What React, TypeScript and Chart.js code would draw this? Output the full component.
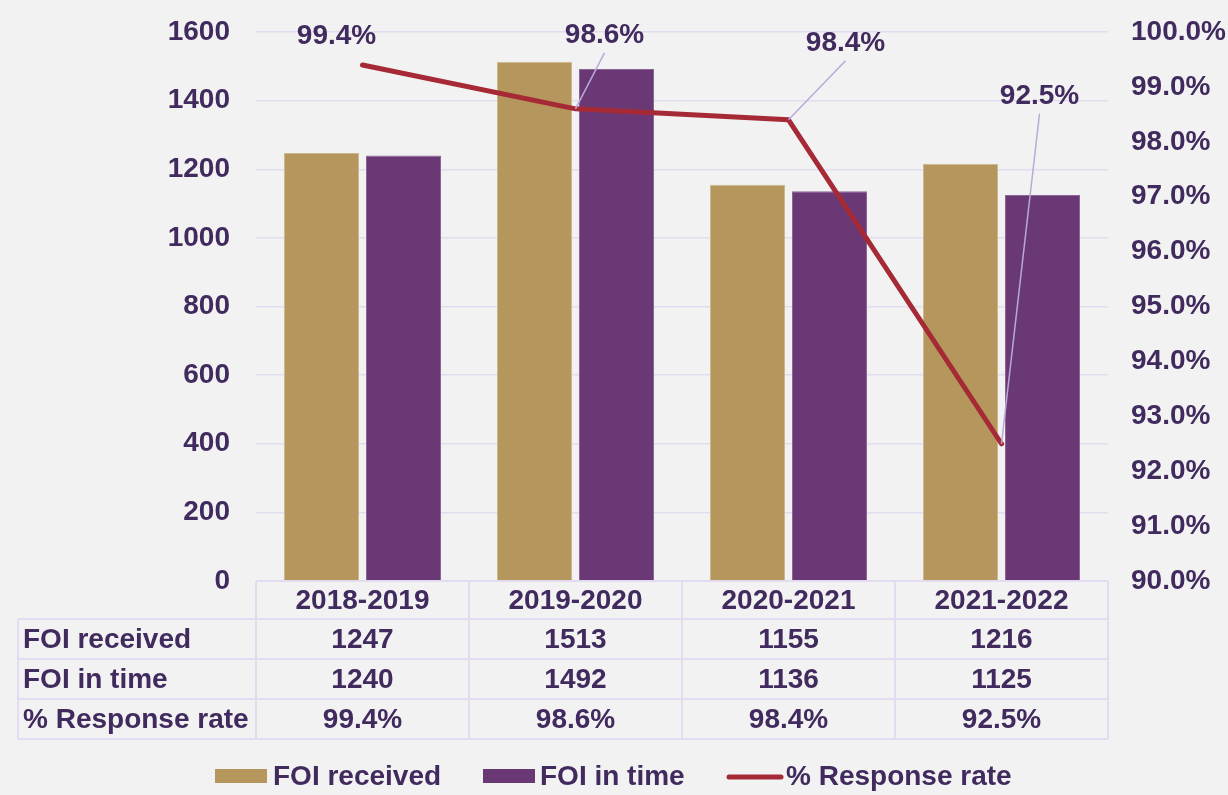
import React, { useEffect, useRef } from "react";
import { Chart, registerables } from "chart.js";

Chart.register(...registerables);

const categories = ["2018-2019", "2019-2020", "2020-2021", "2021-2022"];
const foiReceived = [1247, 1513, 1155, 1216];
const foiInTime = [1240, 1492, 1136, 1125];
const responseRate = [99.4, 98.6, 98.4, 92.5];
const rateLabels = responseRate.map((v) => v.toFixed(1) + "%");
const seriesNames = ["FOI received", "FOI in time", "% Response rate"];

const FONT = "'Liberation Sans', Arial, sans-serif";
const TEXT = "#412a5e";
const GOLD = "#b5965d";
const PURPLE = "#6b3876";
const RED = "#a52a36";
const GRID = "#e3dbef";
const LEADER = "#b9a9d9";

// label placement (style): offset of label centre from the point
const labelOffsets = [
  { dx: -26, dy: -31, leader: false },
  { dx: 29, dy: -76, leader: true },
  { dx: 57, dy: -79, leader: true },
  { dx: 38, dy: -350, leader: true },
];

const tableRows = [
  { label: seriesNames[0], values: foiReceived.map(String) },
  { label: seriesNames[1], values: foiInTime.map(String) },
  { label: seriesNames[2], values: rateLabels },
];

const overlayPlugin = {
  id: "overlay",
  afterDatasetsDraw(chart: any) {
    const ctx = chart.ctx as CanvasRenderingContext2D;
    const meta = chart.getDatasetMeta(2);
    ctx.save();
    ctx.font = `bold 28px ${FONT}`;
    ctx.textAlign = "center";
    ctx.textBaseline = "alphabetic";
    meta.data.forEach((pt: any, i: number) => {
      const o = labelOffsets[i];
      const cx = pt.x + o.dx;
      const cy = pt.y + o.dy;
      if (o.leader) {
        ctx.strokeStyle = LEADER;
        ctx.lineWidth = 1.5;
        ctx.beginPath();
        ctx.moveTo(cx, cy + 20);
        ctx.lineTo(pt.x, pt.y);
        ctx.stroke();
      }
      ctx.fillStyle = TEXT;
      ctx.fillText(rateLabels[i], cx, cy + 10);
    });
    ctx.restore();
  },
  afterDraw(chart: any) {
    const ctx = chart.ctx as CanvasRenderingContext2D;
    const area = chart.chartArea;
    const xs = chart.scales.x;
    const catW = (area.right - area.left) / categories.length;
    const headerTop = area.bottom;
    const headerH = 38;
    const rowH = 40;
    const labelLeft = 18;
    const bottom = headerTop + headerH + rowH * tableRows.length;

    ctx.save();
    ctx.strokeStyle = GRID;
    ctx.lineWidth = 2;
    ctx.beginPath();
    ctx.moveTo(area.left, headerTop);
    ctx.lineTo(area.right, headerTop);
    for (let r = 0; r <= tableRows.length; r++) {
      const y = headerTop + headerH + r * rowH;
      ctx.moveTo(labelLeft, y);
      ctx.lineTo(area.right, y);
    }
    ctx.moveTo(labelLeft, headerTop + headerH);
    ctx.lineTo(labelLeft, bottom);
    for (let c = 0; c <= categories.length; c++) {
      const x = area.left + c * catW;
      ctx.moveTo(x, headerTop);
      ctx.lineTo(x, bottom);
    }
    ctx.stroke();

    ctx.fillStyle = TEXT;
    ctx.font = `bold 28px ${FONT}`;
    ctx.textBaseline = "alphabetic";
    ctx.textAlign = "center";
    categories.forEach((c, i) => {
      ctx.fillText(c, xs.getPixelForValue(i), headerTop + 28);
    });
    tableRows.forEach((row, r) => {
      const base = headerTop + headerH + r * rowH + 29;
      ctx.textAlign = "left";
      ctx.fillText(row.label, labelLeft + 5, base);
      ctx.textAlign = "center";
      row.values.forEach((v, i) => {
        ctx.fillText(v, xs.getPixelForValue(i), base);
      });
    });

    // legend
    const ly = 776;
    const lb = 785;
    ctx.textAlign = "left";
    ctx.fillStyle = GOLD;
    ctx.fillRect(215, ly - 7, 52, 14);
    ctx.fillStyle = TEXT;
    ctx.fillText(seriesNames[0], 273, lb);
    ctx.fillStyle = PURPLE;
    ctx.fillRect(483, ly - 7, 52, 14);
    ctx.fillStyle = TEXT;
    ctx.fillText(seriesNames[1], 540, lb);
    ctx.strokeStyle = RED;
    ctx.lineWidth = 5;
    ctx.lineCap = "round";
    ctx.beginPath();
    ctx.moveTo(729, ly + 1);
    ctx.lineTo(781, ly + 1);
    ctx.stroke();
    ctx.fillStyle = TEXT;
    ctx.fillText(seriesNames[2], 786, lb);
    ctx.restore();
  },
};

export default function App() {
  const ref = useRef<HTMLCanvasElement>(null);
  useEffect(() => {
    const chart = new Chart(ref.current as HTMLCanvasElement, {
      type: "bar",
      data: {
        labels: categories,
        datasets: [
          {
            type: "bar",
            label: seriesNames[0],
            data: foiReceived,
            backgroundColor: GOLD,
            borderColor: "#cdb98f",
            borderWidth: 1,
            yAxisID: "y",
            order: 2,
            categoryPercentage: 0.77,
            barPercentage: 0.915,
          },
          {
            type: "bar",
            label: seriesNames[1],
            data: foiInTime,
            backgroundColor: PURPLE,
            borderColor: "#8b6694",
            borderWidth: 1,
            yAxisID: "y",
            order: 2,
            categoryPercentage: 0.77,
            barPercentage: 0.915,
          },
          {
            type: "line",
            label: seriesNames[2],
            data: responseRate,
            borderColor: RED,
            backgroundColor: RED,
            borderWidth: 5,
            pointRadius: 0,
            borderCapStyle: "round",
            borderJoinStyle: "round",
            tension: 0,
            yAxisID: "y1",
            order: 0,
          },
        ],
      } as any,
      options: {
        responsive: false,
        animation: false,
        devicePixelRatio: 1,
        layout: { padding: { top: 32, bottom: 214, left: 0, right: 0 } },
        plugins: {
          legend: { display: false },
          tooltip: { enabled: false },
          title: { display: false },
        },
        scales: {
          x: { display: false, offset: true },
          y: {
            position: "left",
            min: 0,
            max: 1600,
            ticks: {
              stepSize: 200,
              padding: 26,
              color: TEXT,
              font: { family: FONT, size: 28, weight: "bold" },
              callback: (v: any) => String(v),
            },
            grid: { color: GRID, lineWidth: 1.5, drawTicks: false },
            border: { display: false },
            afterFit: (s: any) => {
              s.width = 256;
              s.paddingTop = 0;
              s.paddingBottom = 0;
            },
          },
          y1: {
            position: "right",
            min: 90,
            max: 100,
            ticks: {
              stepSize: 1,
              padding: 23,
              color: TEXT,
              font: { family: FONT, size: 28, weight: "bold" },
              callback: (v: any) => Number(v).toFixed(1) + "%",
            },
            grid: { display: false, drawTicks: false },
            border: { display: false },
            afterFit: (s: any) => {
              s.width = 120;
              s.paddingTop = 0;
              s.paddingBottom = 0;
            },
          },
        },
      } as any,
      plugins: [overlayPlugin],
    });
    return () => chart.destroy();
  }, []);
  return (
    <div
      style={{
        position: "fixed",
        left: 0,
        top: 0,
        width: 1228,
        height: 795,
        background: "#f2f2f2",
      }}
    >
      <canvas
        ref={ref}
        width={1228}
        height={795}
        style={{ display: "block", width: 1228, height: 795 }}
      />
    </div>
  );
}
